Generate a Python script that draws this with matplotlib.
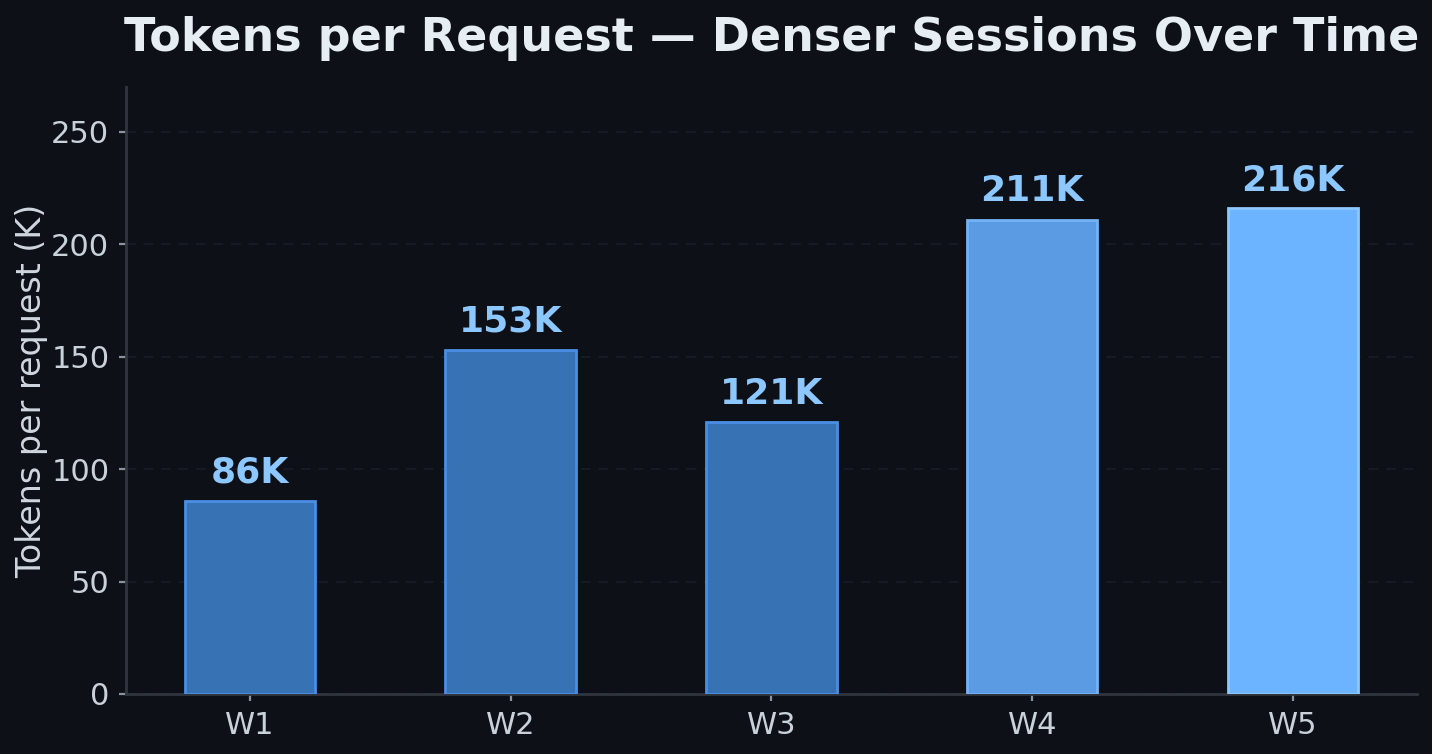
import matplotlib.pyplot as plt

weeks = ["W1", "W2", "W3", "W4", "W5"]
tokens_k = [86, 153, 121, 211, 216]
labels = ["86K", "153K", "121K", "211K", "216K"]

bg = "#0d1017"
face_colors = ["#3672b4", "#3672b4", "#3672b4", "#5b9be3", "#6cb4ff"]
edge_colors = ["#4a8fe6", "#4a8fe6", "#4a8fe6", "#73b3f7", "#8ec8ff"]

plt.rcParams["font.family"] = ["DejaVu Sans"]

fig, ax = plt.subplots(figsize=(7.16, 3.77), dpi=200)
fig.patch.set_facecolor(bg)
ax.set_facecolor(bg)

bars = ax.bar(weeks, tokens_k, width=0.5, color=face_colors,
              edgecolor=edge_colors, linewidth=1.0, zorder=3)

for bar, lab in zip(bars, labels):
    ax.text(bar.get_x() + bar.get_width() / 2, bar.get_height() + 5, lab,
            ha="center", va="bottom", fontsize=13, fontweight="bold",
            color="#8cc8ff", zorder=4)

ax.set_ylim(0, 270)
ax.set_yticks([0, 50, 100, 150, 200, 250])
ax.set_ylabel("Tokens per request (K)", fontsize=12, color="#d0d7de", labelpad=1)
ax.set_title("Tokens per Request — Denser Sessions Over Time",
             fontsize=16.55, fontweight="bold", color="#e6edf3", pad=13)

ax.grid(axis="y", linestyle=(0, (5, 4)), color="#171c24", linewidth=0.7, zorder=0)
ax.set_axisbelow(True)

for side in ["top", "right"]:
    ax.spines[side].set_visible(False)
for side in ["left", "bottom"]:
    ax.spines[side].set_color("#30363d")
    ax.spines[side].set_linewidth(1.0)

ax.tick_params(colors="#c9d1d9", labelsize=11, length=2.5)
ax.tick_params(axis="both", color="#8b949e")

fig.subplots_adjust(left=0.088, right=0.9895, top=0.8846, bottom=0.0796)
plt.savefig("out.png", facecolor=bg)
